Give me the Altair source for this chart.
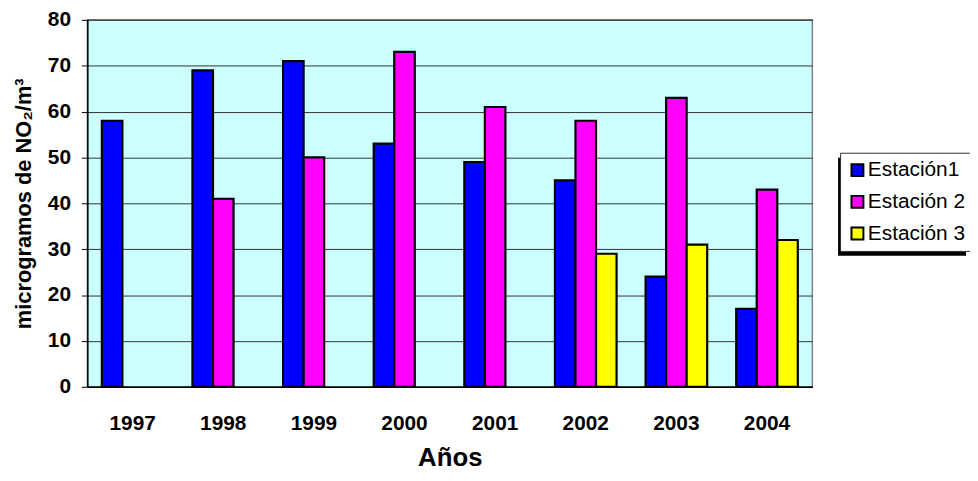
import altair as alt
import pandas as pd

years = ["1997", "1998", "1999", "2000", "2001", "2002", "2003", "2004"]
stations = ["Estación1", "Estación 2", "Estación 3"]
est1 = [58, 69, 71, 53, 49, 45, 24, 17]
est2 = [None, 41, 50, 73, 61, 58, 63, 43]
est3 = [None, None, None, None, None, 29, 31, 32]
colors = ["#0000FF", "#FF00FF", "#FFFF00"]

rows = []
for s, vals in zip(stations, [est1, est2, est3]):
    for y, v in zip(years, vals):
        if v is not None:
            rows.append({"year": y, "station": s, "value": v})
df = pd.DataFrame(rows)

FONT = "Liberation Sans"

bars = alt.Chart(df).mark_bar(stroke="black", strokeWidth=2.2).encode(
    x=alt.X(
        "year:N", sort=years,
        scale=alt.Scale(paddingInner=0.32, paddingOuter=0.16),
        axis=alt.Axis(
            title="Años", labelAngle=0, ticks=False, tickSize=0,
            labelPadding=26, titlePadding=11, titleFontSize=26,
            labelFontSize=21, domainColor="black", grid=False,
        ),
    ),
    xOffset=alt.XOffset(
        "station:N", sort=stations,
        scale=alt.Scale(domain=stations, paddingInner=0, paddingOuter=0),
    ),
    y=alt.Y(
        "value:Q",
        scale=alt.Scale(domain=[0, 80]),
        axis=alt.Axis(
            title="microgramos de NO₂/m³", values=list(range(0, 81, 10)),
            tickSize=6, tickColor="black", labelPadding=11, titlePadding=12,
            titleFontSize=22, labelFontSize=21, domainColor="black",
            gridColor="#333333", gridOpacity=1,
        ),
    ),
    color=alt.Color(
        "station:N",
        scale=alt.Scale(domain=stations, range=colors),
        legend=alt.Legend(
            title=None, orient="none", legendX=759, legendY=134,
            fillColor="white", strokeColor="#333333", padding=7,
            symbolType="square", symbolSize=144, symbolStrokeColor="black",
            symbolStrokeWidth=2, symbolOpacity=1, labelFontSize=21,
            labelFont=FONT, labelColor="black", labelOffset=0,
            rowPadding=10,
        ),
    ),
)

shadow = alt.Chart(pd.DataFrame({"k": [0]})).mark_rect(color="black", clip=False).encode(
    x=alt.value(757), x2=alt.value(886), y=alt.value(139), y2=alt.value(238)
)

chart = alt.layer(shadow, bars).properties(
    width=731, height=370,
    autosize=alt.AutoSizeParams(type="none"),
    padding={"left": 80, "top": 10, "right": 159, "bottom": 85},
    background="white",
).configure_view(
    fill="#CCFFFF", stroke="#808080", strokeWidth=1.5
).configure_axis(
    labelFont=FONT, titleFont=FONT, labelFontWeight="bold",
    titleFontWeight="bold", labelColor="black", titleColor="black",
    domainWidth=1.5,
)

chart.save("out.html", embed_options={"renderer": "svg", "actions": False})
